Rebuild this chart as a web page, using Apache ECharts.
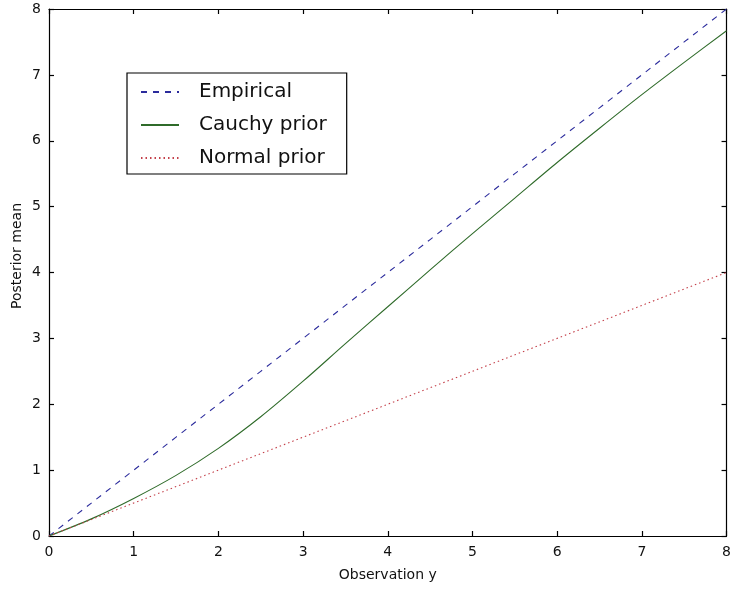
<!DOCTYPE html>
<html>
<head>
<meta charset="utf-8">
<script src="https://cdn.jsdelivr.net/npm/echarts@6/dist/echarts.min.js"></script>
<style>
  html, body { margin: 0; padding: 0; background: #fff; }
  #chart { width: 734px; height: 590px; }
</style>
</head>
<body>
<div id="chart"></div>
<script>
// values
const obsY = [0, 0.5, 1, 1.5, 2, 2.5, 3, 3.5, 4, 4.5, 5, 5.5, 6, 6.5, 7, 7.5, 8];
const empirical = [0, 0.5, 1, 1.5, 2, 2.5, 3, 3.5, 4, 4.5, 5, 5.5, 6, 6.5, 7, 7.5, 8];
const cauchyPrior = [0, 0.26, 0.57, 0.92, 1.33, 1.81, 2.35, 2.92, 3.48, 4.04, 4.59, 5.13, 5.67, 6.19, 6.7, 7.19, 7.67];
const normalPrior = [0, 0.25, 0.5, 0.75, 1, 1.25, 1.5, 1.75, 2, 2.25, 2.5, 2.75, 3, 3.25, 3.5, 3.75, 4];
const tickVals = [0, 1, 2, 3, 4, 5, 6, 7, 8];

const font = "DejaVu Sans";
const pairs = (ys) => obsY.map((x, i) => [x, ys[i]]);

const chart = echarts.init(document.getElementById("chart"), null, { renderer: "canvas" });

const axisBase = {
  type: "value",
  min: 0,
  max: 8,
  interval: 1,
  axisLine: { show: true, onZero: false, lineStyle: { color: "#000", width: 1.2 } },
  axisTick: { show: true, inside: true, length: 5, lineStyle: { color: "#000", width: 1.2 } },
  splitLine: { show: false },
};

chart.setOption({
  backgroundColor: "#fff",
  animation: false,
  grid: { left: 49, right: 4, top: 9, bottom: 54 },
  graphic: [
    {
      type: "text",
      left: 10,
      top: 203,
      rotation: Math.PI / 2,
      style: { text: "Posterior mean", font: "14px " + font, fill: "#111" },
    },
  ],
  legend: {
    orient: "vertical",
    left: 127,
    top: 73,
    backgroundColor: "#fff",
    borderColor: "#000",
    borderWidth: 1.2,
    borderRadius: 0,
    padding: [9, 20, 6, 13],
    itemWidth: 38,
    itemHeight: 20,
    itemGap: 13,
    itemStyle: { opacity: 0 },
    textStyle: { fontFamily: font, fontSize: 20, color: "#111", padding: [0, 0, 0, 15] },
    data: ["Empirical", "Cauchy prior", "Normal prior"],
  },
  xAxis: [
    {
      ...axisBase,
      position: "bottom",
      name: "Observation y",
      nameLocation: "middle",
      nameGap: 32,
      nameTextStyle: { fontFamily: font, fontSize: 14, color: "#111" },
      axisLabel: {
        fontFamily: font, fontSize: 14, color: "#111", margin: 9,
        formatter: (v) => (tickVals.includes(v) ? String(v) : ""),
      },
    },
    { ...axisBase, position: "top", axisLabel: { show: false } },
  ],
  yAxis: [
    {
      ...axisBase,
      position: "left",
      axisLabel: { fontFamily: font, fontSize: 14, color: "#111", margin: 8 },
    },
    { ...axisBase, position: "right", axisLabel: { show: false } },
  ],
  series: [
    {
      name: "Empirical",
      type: "line",
      data: pairs(empirical),
      symbol: "none",
      lineStyle: { color: "#2b2b9c", width: 1.1, type: [6, 6] },
      itemStyle: { color: "#2b2b9c" },
    },
    {
      name: "Cauchy prior",
      type: "line",
      data: pairs(cauchyPrior),
      smooth: 0.3,
      symbol: "none",
      lineStyle: { color: "#2f6b2a", width: 1.1 },
      itemStyle: { color: "#2f6b2a" },
    },
    {
      name: "Normal prior",
      type: "line",
      data: pairs(normalPrior),
      symbol: "none",
      lineStyle: { color: "#c4404a", width: 1.1, type: [1.5, 3] },
      itemStyle: { color: "#c4404a" },
    },
  ],
});
</script>
</body>
</html>
